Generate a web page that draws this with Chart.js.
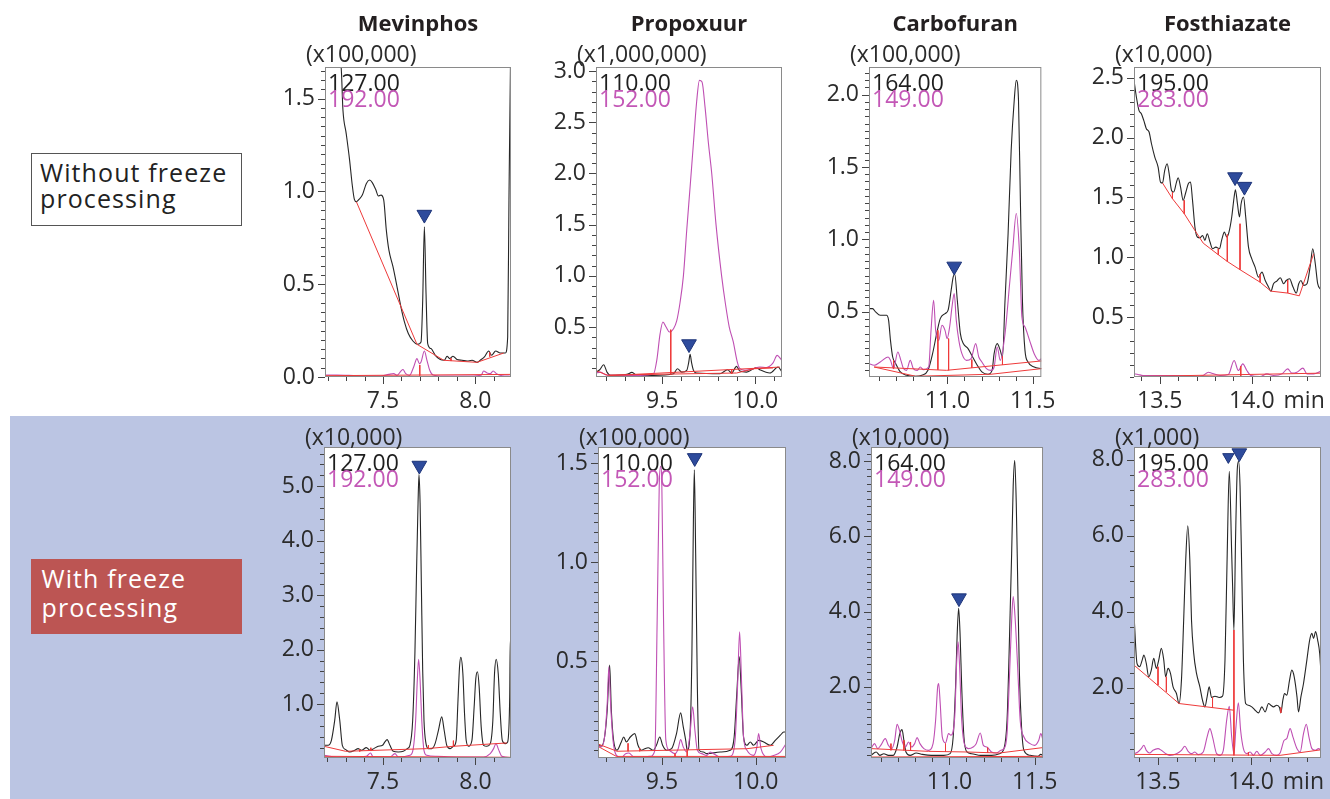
<!DOCTYPE html>
<html><head><meta charset="utf-8">
<script src="https://cdn.jsdelivr.net/npm/chart.js@4.4.1/dist/chart.umd.min.js"></script>
<style>
html,body{margin:0;padding:0;background:#fff;width:1330px;height:799px;overflow:hidden;font-family:'Open Sans','Noto Sans',sans-serif}
#band{position:absolute;left:10px;top:416px;width:1320px;height:383px;background:#BBC5E3}
.lab{position:absolute;box-sizing:border-box;font-size:25px;letter-spacing:1.1px;white-space:nowrap}
#lab1{left:31px;top:153px;width:211px;height:73px;border:1px solid #555;background:#fff;color:#222;line-height:25.6px;padding:6.2px 0 0 8px}
#lab2{left:31px;top:559px;width:211px;height:75px;background:#BC5553;color:#fff;line-height:28.4px;padding:5.4px 0 0 10.5px}
canvas{position:absolute}
</style></head>
<body>
<div id="band"></div>
<div class="lab" id="lab1">Without freeze<br>processing</div>
<div class="lab" id="lab2">With freeze<br>processing</div>
<script>
// ---------------- text / tick labels ----------------
const compounds = ['Mevinphos','Propoxuur','Carbofuran','Fosthiazate'];
const ionPairs = [['127.00','192.00'],['110.00','152.00'],['164.00','149.00'],['195.00','283.00']];
const xTickLabels = [['7.5','8.0'],['9.5','10.0'],['11.0','11.5'],['13.5','14.0']];
const expLabelsTop = ['(x100,000)','(x1,000,000)','(x100,000)','(x10,000)'];
const expLabelsBottom = ['(x10,000)','(x100,000)','(x10,000)','(x1,000)'];
const yTickLabelsTop = [['0.0','0.5','1.0','1.5'],['0.5','1.0','1.5','2.0','2.5','3.0'],['0.5','1.0','1.5','2.0'],['0.5','1.0','1.5','2.0','2.5']];
const yTickLabelsBottom = [['1.0','2.0','3.0','4.0','5.0'],['0.5','1.0','1.5'],['2.0','4.0','6.0','8.0'],['2.0','4.0','6.0','8.0']];
const xRangesTop = [[7.186,8.193],[9.145,10.143],[10.54,11.551],[13.36,14.376]];
const xRangesBottom = [[7.182,8.192],[9.16,10.161],[10.54,11.549],[13.371,14.376]];
const yRangesTop = [[0,1.67],[0.012,3.04],[0.051,2.19],[0,2.589]];
const yRangesBottom = [[0.012,5.72],[0.011,1.581],[0.107,8.38],[0.155,8.33]];
const yMinorTop = [0.05,0.1,0.05,0.1];
const yMinorBottom = [0.2,0.05,0.2,0.4];

// ---------------- Mevinphos, without freeze ----------------
const mevA_127 = [[7.184,1.80],[7.273,1.67],[7.283,1.44],[7.301,1.31],[7.319,1.17],[7.334,1.03],[7.345,0.957],[7.356,0.944],[7.370,0.957],[7.388,0.98],[7.410,1.043],[7.428,1.061],[7.442,1.047],[7.460,1.011],[7.475,0.975],[7.489,0.98],[7.504,0.953],[7.518,0.791],[7.532,0.683],[7.554,0.594],[7.576,0.486],[7.597,0.378],[7.616,0.297],[7.637,0.234],[7.662,0.194],[7.688,0.176],[7.706,0.189],[7.715,0.414],[7.724,0.809],[7.733,0.45],[7.742,0.18],[7.760,0.153],[7.783,0.117],[7.810,0.094],[7.832,0.09],[7.847,0.112],[7.861,0.099],[7.879,0.112],[7.901,0.094],[7.928,0.090],[7.955,0.086],[7.982,0.090],[8.009,0.079],[8.031,0.094],[8.049,0.108],[8.072,0.140],[8.088,0.117],[8.110,0.140],[8.135,0.129],[8.162,0.129],[8.175,0.216],[8.182,0.953],[8.190,1.67],[8.193,1.80]];
const mevA_192 = [[7.184,0.011],[7.251,0.011],[7.359,0.007],[7.486,0.005],[7.531,0.014],[7.558,0.018],[7.576,0.009],[7.597,0.032],[7.608,0.040],[7.623,0.018],[7.644,0.009],[7.666,0.054],[7.684,0.099],[7.697,0.072],[7.706,0.081],[7.724,0.140],[7.738,0.090],[7.753,0.036],[7.771,0.011],[7.829,0.005],[7.973,0.005],[8.031,0.009],[8.045,0.032],[8.063,0.022],[8.081,0.018],[8.096,0.032],[8.114,0.018],[8.144,0.007],[8.193,0.004]];
const mevA_base = [[[7.356,0.944],[7.684,0.176],[7.829,0.090],[8.009,0.079],[8.153,0.129]],[[7.184,0.007],[8.193,0.014]]];
const mevA_drops = [[7.699,0.065,0.007],[7.868,0.101,0.086],[8.078,0.132,0.110]];
const mevA_peaks = [[7.724,0.875]];

// ---------------- Propoxuur, without freeze ----------------
const proA_110 = [[9.145,0.060],[9.165,0.083],[9.186,0.132],[9.204,0.060],[9.222,0.028],[9.311,0.038],[9.338,0.057],[9.365,0.028],[9.454,0.028],[9.561,0.044],[9.582,0.093],[9.605,0.060],[9.632,0.077],[9.642,0.15],[9.650,0.233],[9.658,0.15],[9.668,0.077],[9.685,0.051],[9.810,0.044],[9.851,0.083],[9.873,0.051],[9.899,0.116],[9.917,0.070],[9.953,0.060],[10.006,0.103],[10.024,0.083],[10.078,0.051],[10.122,0.109],[10.143,0.060]];
const proA_152 = [[9.145,0.051],[9.168,0.06],[9.186,0.044],[9.204,0.031],[9.293,0.028],[9.382,0.028],[9.454,0.044],[9.471,0.174],[9.489,0.435],[9.504,0.549],[9.521,0.5],[9.539,0.451],[9.561,0.484],[9.578,0.56],[9.596,0.74],[9.614,1.0],[9.632,1.45],[9.650,1.87],[9.668,2.3],[9.685,2.7],[9.700,2.909],[9.714,2.893],[9.730,2.65],[9.748,2.3],[9.766,2.0],[9.789,1.5],[9.819,1.0],[9.840,0.72],[9.860,0.5],[9.881,0.36],[9.903,0.16],[9.917,0.093],[9.944,0.077],[9.988,0.093],[10.024,0.109],[10.060,0.105],[10.095,0.150],[10.117,0.223],[10.135,0.191],[10.143,0.168]];
const proA_base = [[[9.151,0.070],[9.213,0.025],[10.131,0.109]],[[9.213,0.031],[9.899,0.051],[9.996,0.093],[10.095,0.1]]];
const proA_drops = [[9.546,0.474,0.038],[9.873,0.083,0.044],[10.0,0.103,0.093]];
const proA_peaks = [[9.644,0.334]];

// ---------------- Carbofuran, without freeze ----------------
const carA_164 = [[10.540,0.523],[10.561,0.523],[10.579,0.5],[10.606,0.477],[10.643,0.477],[10.655,0.442],[10.666,0.304],[10.679,0.189],[10.697,0.143],[10.724,0.086],[10.760,0.063],[10.814,0.056],[10.850,0.063],[10.886,0.097],[10.913,0.212],[10.937,0.350],[10.958,0.454],[10.986,0.488],[11.004,0.512],[11.022,0.650],[11.034,0.742],[11.043,0.76],[11.058,0.581],[11.076,0.350],[11.094,0.281],[11.121,0.247],[11.148,0.189],[11.175,0.132],[11.202,0.086],[11.238,0.070],[11.262,0.097],[11.274,0.212],[11.292,0.281],[11.310,0.235],[11.323,0.189],[11.338,0.581],[11.356,1.041],[11.374,1.616],[11.392,1.961],[11.404,2.099],[11.417,1.961],[11.428,1.271],[11.440,0.581],[11.455,0.235],[11.473,0.155],[11.509,0.120],[11.551,0.109]];
const carA_149 = [[10.540,0.143],[10.570,0.132],[10.606,0.155],[10.652,0.189],[10.666,0.166],[10.684,0.109],[10.709,0.224],[10.727,0.166],[10.742,0.109],[10.760,0.097],[10.782,0.166],[10.800,0.109],[10.823,0.097],[10.841,0.120],[10.859,0.102],[10.890,0.120],[10.904,0.373],[10.919,0.581],[10.931,0.373],[10.949,0.304],[10.968,0.408],[10.986,0.373],[10.998,0.316],[11.013,0.396],[11.027,0.535],[11.040,0.627],[11.052,0.442],[11.067,0.304],[11.085,0.212],[11.112,0.166],[11.139,0.178],[11.166,0.281],[11.184,0.189],[11.202,0.155],[11.229,0.109],[11.256,0.097],[11.274,0.120],[11.292,0.258],[11.310,0.166],[11.338,0.350],[11.365,0.696],[11.383,0.926],[11.404,1.179],[11.422,0.926],[11.437,0.465],[11.455,0.396],[11.482,0.304],[11.509,0.212],[11.536,0.166],[11.551,0.178]];
const carA_base = [[[10.570,0.120],[10.814,0.056],[11.256,0.070],[11.554,0.109]],[[10.570,0.120],[10.995,0.097],[11.554,0.162]]];
const carA_drops = [[10.684,0.166,0.109],[10.944,0.373,0.10],[11.007,0.316,0.098],[11.143,0.171,0.114],[11.323,0.194,0.135]];
const carA_peaks = [[11.040,0.814]];

// ---------------- Fosthiazate, without freeze ----------------
const fosA_195 = [[13.360,2.478],[13.373,2.338],[13.387,2.227],[13.400,2.199],[13.413,2.143],[13.427,2.074],[13.442,2.046],[13.455,1.948],[13.473,1.837],[13.491,1.753],[13.504,1.628],[13.515,1.620],[13.527,1.726],[13.540,1.781],[13.551,1.698],[13.564,1.558],[13.576,1.545],[13.591,1.628],[13.600,1.664],[13.613,1.586],[13.627,1.475],[13.642,1.545],[13.655,1.614],[13.667,1.628],[13.678,1.475],[13.691,1.252],[13.704,1.169],[13.718,1.163],[13.733,1.182],[13.745,1.141],[13.758,1.196],[13.773,1.127],[13.787,1.071],[13.805,1.085],[13.824,1.071],[13.836,1.141],[13.851,1.210],[13.864,1.169],[13.876,1.210],[13.891,1.336],[13.904,1.503],[13.911,1.564],[13.922,1.447],[13.933,1.336],[13.942,1.447],[13.955,1.503],[13.967,1.336],[13.982,1.085],[14.000,0.987],[14.018,0.918],[14.036,0.834],[14.055,0.876],[14.073,0.806],[14.091,0.751],[14.104,0.717],[14.118,0.779],[14.136,0.801],[14.155,0.829],[14.173,0.779],[14.187,0.806],[14.205,0.820],[14.224,0.751],[14.242,0.701],[14.255,0.779],[14.267,0.806],[14.282,0.765],[14.300,0.779],[14.318,0.932],[14.331,1.071],[14.345,0.946],[14.358,0.779],[14.376,0.728]];
const fosA_283 = [[13.360,0.026],[13.382,0.021],[13.409,0.013],[13.482,0.013],[13.573,0.013],[13.645,0.010],[13.691,0.004],[13.736,0.013],[13.764,0.040],[13.782,0.032],[13.827,0.013],[13.873,0.021],[13.904,0.138],[13.927,0.054],[13.951,0.110],[13.973,0.054],[13.995,0.013],[14.045,0.004],[14.082,0.026],[14.118,0.013],[14.164,0.026],[14.195,0.068],[14.218,0.032],[14.245,0.040],[14.278,0.074],[14.300,0.026],[14.336,0.026],[14.376,0.049]];
const fosA_base = [[[13.515,1.620],[13.569,1.489],[13.633,1.364],[13.691,1.224],[13.736,1.118],[13.818,1.021],[13.867,0.965],[13.936,0.896],[14.045,0.792],[14.104,0.717],[14.195,0.701],[14.258,0.678],[14.336,1.029]],[[13.360,0.004],[14.376,0.032]]];
const fosA_drops = [[13.569,1.545,1.489],[13.633,1.475,1.364],[13.818,1.071,1.021],[13.867,1.19,0.965],[13.936,1.28,0.896],[14.045,0.86,0.792],[14.195,0.81,0.701],[13.940,0.09,0.008]];
const fosA_peaks = [[13.909,1.67],[13.96,1.59]];

// ---------------- Mevinphos, with freeze ----------------
const mevB_127 = [[7.182,0.245],[7.204,0.245],[7.222,0.337],[7.240,0.706],[7.252,1.043],[7.267,0.706],[7.281,0.245],[7.299,0.166],[7.321,0.123],[7.348,0.153],[7.366,0.184],[7.384,0.153],[7.411,0.202],[7.430,0.153],[7.451,0.184],[7.475,0.227],[7.498,0.245],[7.511,0.307],[7.523,0.350],[7.538,0.245],[7.556,0.135],[7.583,0.123],[7.610,0.135],[7.632,0.184],[7.646,0.245],[7.661,0.706],[7.673,1.933],[7.682,3.466],[7.690,4.693],[7.695,5.215],[7.701,4.693],[7.708,3.160],[7.715,1.626],[7.722,0.706],[7.733,0.276],[7.746,0.184],[7.764,0.184],[7.782,0.276],[7.800,0.521],[7.818,0.767],[7.831,0.521],[7.845,0.245],[7.863,0.184],[7.881,0.227],[7.896,0.337],[7.905,1.012],[7.914,1.687],[7.921,1.859],[7.932,1.564],[7.941,0.828],[7.950,0.337],[7.963,0.227],[7.981,0.337],[7.993,0.951],[8.002,1.472],[8.011,1.595],[8.020,1.319],[8.031,0.583],[8.044,0.245],[8.062,0.227],[8.080,0.276],[8.094,0.706],[8.103,1.564],[8.112,1.822],[8.123,1.564],[8.134,0.828],[8.145,0.337],[8.161,0.276],[8.174,0.307],[8.185,1.135],[8.188,2.178],[8.192,2.178]];
const mevB_192 = [[7.182,0.061],[7.251,0.031],[7.339,0.031],[7.411,0.043],[7.433,0.104],[7.448,0.031],[7.538,0.031],[7.565,0.092],[7.583,0.031],[7.646,0.061],[7.664,0.184],[7.677,0.706],[7.686,1.442],[7.693,1.822],[7.701,1.442],[7.710,0.706],[7.722,0.153],[7.737,0.061],[7.791,0.043],[7.899,0.031],[8.044,0.031],[8.080,0.092],[8.098,0.184],[8.111,0.276],[8.125,0.166],[8.143,0.043],[8.192,0.018]];
const mevB_base = [[[7.182,0.227],[7.299,0.135],[7.737,0.184],[7.881,0.227],[8.170,0.288]],[[7.182,0.043],[8.192,0.025]]];
const mevB_drops = [[7.375,0.17,0.13],[7.435,0.20,0.14],[7.746,0.25,0.18],[7.881,0.33,0.22]];
const mevB_peaks = [[7.697,5.38]];

// ---------------- Propoxuur, with freeze ----------------
const proB_110 = [[9.160,0.083],[9.177,0.070],[9.195,0.117],[9.209,0.252],[9.222,0.480],[9.231,0.252],[9.243,0.100],[9.261,0.050],[9.284,0.092],[9.297,0.117],[9.311,0.092],[9.332,0.117],[9.356,0.134],[9.373,0.075],[9.391,0.050],[9.409,0.058],[9.427,0.063],[9.454,0.050],[9.471,0.075],[9.489,0.117],[9.504,0.075],[9.525,0.050],[9.552,0.058],[9.578,0.134],[9.600,0.239],[9.614,0.168],[9.627,0.100],[9.635,0.050],[9.650,0.134],[9.660,0.539],[9.668,1.213],[9.673,1.466],[9.680,1.045],[9.689,0.370],[9.698,0.050],[9.721,0.041],[9.739,0.033],[9.810,0.041],[9.864,0.050],[9.885,0.117],[9.899,0.336],[9.912,0.522],[9.922,0.370],[9.935,0.117],[9.953,0.075],[9.971,0.092],[9.988,0.075],[10.015,0.100],[10.042,0.092],[10.078,0.075],[10.104,0.100],[10.131,0.126],[10.149,0.142],[10.161,0.142]];
const proB_152 = [[9.160,0.075],[9.177,0.067],[9.195,0.117],[9.209,0.286],[9.218,0.471],[9.227,0.286],[9.240,0.100],[9.258,0.024],[9.284,0.013],[9.307,0.033],[9.325,0.036],[9.347,0.019],[9.382,0.016],[9.436,0.019],[9.463,0.050],[9.475,0.707],[9.486,1.382],[9.493,1.483],[9.500,1.382],[9.509,0.707],[9.521,0.104],[9.539,0.050],[9.570,0.033],[9.587,0.058],[9.600,0.104],[9.614,0.067],[9.632,0.041],[9.650,0.134],[9.664,0.269],[9.676,0.151],[9.689,0.050],[9.712,0.033],[9.739,0.024],[9.757,0.041],[9.775,0.033],[9.810,0.016],[9.864,0.019],[9.890,0.100],[9.903,0.370],[9.914,0.648],[9.924,0.404],[9.935,0.117],[9.953,0.050],[9.988,0.024],[10.006,0.067],[10.015,0.134],[10.028,0.058],[10.060,0.016],[10.095,0.024],[10.131,0.041],[10.161,0.083]];
const proB_base = [[[9.165,0.080],[9.261,0.045],[9.953,0.058],[10.095,0.075]],[[9.165,0.067],[9.258,0.019],[10.158,0.019]]];
const proB_drops = [[9.320,0.085,0.045],[9.382,0.06,0.045],[9.570,0.033,0.017],[9.635,0.05,0.017]];
const proB_peaks = [[9.675,1.526]];

// ---------------- Carbofuran, with freeze ----------------
const carB_164 = [[10.540,0.178],[10.570,0.267],[10.592,0.178],[10.615,0.222],[10.642,0.178],[10.670,0.178],[10.693,0.400],[10.709,0.756],[10.722,0.862],[10.733,0.578],[10.745,0.267],[10.769,0.178],[10.805,0.240],[10.841,0.204],[10.895,0.178],[10.967,0.178],[11.004,0.222],[11.022,0.667],[11.036,2.0],[11.045,3.333],[11.054,4.089],[11.063,3.333],[11.072,2.0],[11.085,0.667],[11.103,0.267],[11.130,0.222],[11.184,0.178],[11.247,0.178],[11.293,0.222],[11.320,0.356],[11.338,1.111],[11.350,2.889],[11.365,5.556],[11.374,7.333],[11.383,8.027],[11.392,6.889],[11.401,4.667],[11.410,2.444],[11.423,0.933],[11.437,0.311],[11.473,0.178],[11.518,0.151],[11.536,0.204],[11.549,0.178]];
const carB_149 = [[10.540,0.356],[10.561,0.489],[10.579,0.356],[10.597,0.444],[10.624,0.622],[10.642,0.444],[10.661,0.356],[10.679,0.578],[10.693,1.004],[10.707,0.844],[10.724,0.533],[10.742,0.400],[10.760,0.533],[10.778,0.400],[10.796,0.489],[10.810,0.649],[10.827,0.489],[10.850,0.356],[10.877,0.311],[10.904,0.489],[10.919,1.111],[10.931,2.0],[10.937,2.089],[10.946,1.556],[10.958,0.667],[10.977,0.507],[10.995,0.756],[11.009,0.711],[11.031,1.2],[11.043,2.711],[11.051,3.2],[11.058,2.711],[11.072,1.111],[11.090,0.444],[11.112,0.356],[11.139,0.400],[11.157,0.489],[11.181,0.773],[11.199,0.444],[11.220,0.400],[11.247,0.267],[11.274,0.240],[11.302,0.311],[11.320,0.356],[11.338,0.756],[11.350,2.0],[11.365,3.778],[11.374,4.4],[11.386,3.778],[11.401,2.444],[11.415,1.111],[11.437,0.667],[11.473,0.489],[11.500,0.444],[11.524,0.578],[11.536,0.756],[11.549,0.578]];
const carB_base = [[[10.543,0.356],[10.877,0.284],[11.103,0.267],[11.293,0.240],[11.545,0.382]],[[10.540,0.133],[11.549,0.151]]];
const carB_drops = [[10.657,0.489,0.311],[10.733,0.578,0.311],[10.772,0.533,0.311],[10.977,0.489,0.267],[11.224,0.382,0.240]];
const carB_peaks = [[11.056,4.36]];

// ---------------- Fosthiazate, with freeze ----------------
const fosB_195 = [[13.371,3.959],[13.380,3.081],[13.387,2.641],[13.401,2.553],[13.415,2.729],[13.424,2.861],[13.437,2.641],[13.450,2.290],[13.464,2.466],[13.477,2.773],[13.491,2.510],[13.504,2.729],[13.518,3.037],[13.531,2.729],[13.541,2.290],[13.554,2.510],[13.567,2.378],[13.581,2.026],[13.599,1.851],[13.613,1.587],[13.626,2.202],[13.638,3.783],[13.649,5.365],[13.660,6.261],[13.671,5.365],[13.680,3.783],[13.692,2.905],[13.707,2.378],[13.725,2.026],[13.739,1.675],[13.752,1.499],[13.764,1.763],[13.775,2.026],[13.788,1.745],[13.806,1.780],[13.829,1.745],[13.847,1.780],[13.860,2.729],[13.872,5.540],[13.883,7.693],[13.896,5.540],[13.901,4.662],[13.908,3.520],[13.917,5.980],[13.926,7.737],[13.933,7.956],[13.941,7.297],[13.950,5.101],[13.959,2.729],[13.971,1.587],[13.986,1.543],[14.004,1.499],[14.022,1.411],[14.040,1.341],[14.058,1.499],[14.076,1.367],[14.094,1.587],[14.106,1.543],[14.121,1.499],[14.138,1.543],[14.153,1.482],[14.160,1.341],[14.171,1.675],[14.180,1.851],[14.192,1.807],[14.207,2.202],[14.219,2.466],[14.232,2.290],[14.247,1.763],[14.255,1.367],[14.268,1.763],[14.282,2.114],[14.300,2.729],[14.315,3.256],[14.327,3.432],[14.336,3.300],[14.347,3.476],[14.358,3.256],[14.369,2.905],[14.376,2.378]];
const fosB_283 = [[13.371,0.269],[13.392,0.313],[13.410,0.401],[13.424,0.489],[13.437,0.357],[13.455,0.287],[13.473,0.357],[13.500,0.401],[13.518,0.357],[13.541,0.269],[13.563,0.225],[13.599,0.269],[13.626,0.357],[13.644,0.463],[13.662,0.331],[13.680,0.269],[13.698,0.313],[13.716,0.243],[13.743,0.313],[13.764,0.709],[13.779,0.928],[13.793,0.709],[13.815,0.269],[13.833,0.225],[13.851,0.357],[13.869,1.148],[13.883,1.517],[13.896,0.709],[13.908,0.269],[13.919,0.972],[13.932,1.605],[13.944,0.884],[13.959,0.401],[13.977,0.269],[13.995,0.313],[14.013,0.225],[14.031,0.331],[14.049,0.225],[14.076,0.313],[14.094,0.401],[14.112,0.269],[14.138,0.225],[14.156,0.287],[14.178,0.621],[14.192,0.665],[14.210,0.928],[14.225,0.709],[14.247,0.401],[14.264,0.313],[14.282,0.796],[14.297,1.042],[14.311,0.709],[14.327,0.401],[14.345,0.357],[14.363,0.401],[14.376,0.357]];
const fosB_base = [[[13.371,2.597],[13.455,2.246],[13.613,1.587],[13.908,1.411]],[[13.371,0.25],[14.156,0.225],[14.376,0.37]]];
const fosB_drops = [[13.500,2.553,2.070],[13.545,2.290,1.895],[13.793,1.745,1.482],[13.908,3.520,0.225],[13.986,0.31,0.225],[14.160,1.482,1.341]];
const fosB_peaks = [[13.878,8.07],[13.937,8.17]];
const fosB_peakSizes = [6.5,8.5];

// ---------------- layout (pixel boxes of plot areas) ----------------
const plotBoxes = [
  [325,67,511,377],[596,67,782,377],[869,67,1055,377],[1134,67,1321,377],
  [324,447,511,758],[598,447,786,758],[871,447,1057,758],[1134,447,1321,758]
];
const FONT = "'Open Sans','Noto Sans',sans-serif";
const BLK = '#262626', MAG = '#BF4FB3', RED = '#EE3A3A', MAGTXT = '#C357B6';

const traces = [
  [mevA_127,mevA_192,mevA_base,mevA_drops,mevA_peaks,null],
  [proA_110,proA_152,proA_base,proA_drops,proA_peaks,null],
  [carA_164,carA_149,carA_base,carA_drops,carA_peaks,null],
  [fosA_195,fosA_283,fosA_base,fosA_drops,fosA_peaks,null],
  [mevB_127,mevB_192,mevB_base,mevB_drops,mevB_peaks,null],
  [proB_110,proB_152,proB_base,proB_drops,proB_peaks,null],
  [carB_164,carB_149,carB_base,carB_drops,carB_peaks,null],
  [fosB_195,fosB_283,fosB_base,fosB_drops,fosB_peaks,fosB_peakSizes]
];

function makeTicks(min, max, step) {
  const out = [];
  const s = Math.ceil(min/step - 1e-9), e = Math.floor(max/step + 1e-9);
  for (let i = s; i <= e; i++) out.push({value: +(i*step).toFixed(5)});
  return out;
}
function labelFor(labels) {
  return v => { const m = labels.find(l => Math.abs(parseFloat(l) - v) < 1e-6); return m || ''; };
}

for (let i = 0; i < 8; i++) {
  const row = i < 4 ? 0 : 1, col = i % 4;
  const [L,T,R,B] = plotBoxes[i];
  const [blk, mag, base, drops, peaks, peakSizes] = traces[i];
  const xr = row ? xRangesBottom[col] : xRangesTop[col];
  const yr = row ? yRangesBottom[col] : yRangesTop[col];
  const yStep = row ? yMinorBottom[col] : yMinorTop[col];
  const yLabels = row ? yTickLabelsBottom[col] : yTickLabelsTop[col];
  const xLabels = xTickLabels[col];
  const exp = row ? expLabelsBottom[col] : expLabelsTop[col];
  const ions = ionPairs[col];
  const title = row ? null : compounds[col];

  const YW = 70, XH = 40, PR = 12;
  const cTop = row ? 418 : 0, cH = row ? 381 : 417;
  const cLeft = L - YW, cW = (R - L) + YW + PR;
  const cv = document.createElement('canvas');
  cv.width = cW; cv.height = cH;
  cv.style.left = cLeft + 'px'; cv.style.top = cTop + 'px';
  cv.style.width = cW + 'px'; cv.style.height = cH + 'px';
  document.body.appendChild(cv);

  const pts = a => a.map(([x,y]) => ({x,y}));
  const segs = list => { const o=[]; list.forEach(s => { s.forEach(([x,y]) => o.push({x,y})); o.push({x:s[s.length-1][0], y:null}); }); return o; };
  const dropSegs = list => { const o=[]; list.forEach(([x,a,b]) => o.push({x,y:a},{x,y:b},{x,y:null})); return o; };

  const decor = {
    id: 'decor' + i,
    beforeDraw(chart) {
      const a = chart.chartArea, ctx = chart.ctx;
      ctx.save(); ctx.fillStyle = '#fff';
      ctx.fillRect(a.left, a.top, a.right - a.left, a.bottom - a.top);
      ctx.restore();
    },
    afterDraw(chart) {
      const a = chart.chartArea, ctx = chart.ctx;
      ctx.save();
      ctx.strokeStyle = '#8a8a8a'; ctx.lineWidth = 1;
      ctx.strokeRect(a.left + 0.5, a.top + 0.5, a.right - a.left - 1, a.bottom - a.top - 1);
      ctx.strokeStyle = '#444'; ctx.beginPath();
      chart.scales.x.ticks.forEach(t => {
        const len = t.label ? 7 : 4;
        const px = Math.round(chart.scales.x.getPixelForValue(t.value)) + 0.5;
        ctx.moveTo(px, a.bottom); ctx.lineTo(px, a.bottom + len);
      });
      chart.scales.y.ticks.forEach(t => {
        const len = t.label ? 7 : 4;
        const py = Math.round(chart.scales.y.getPixelForValue(t.value)) + 0.5;
        ctx.moveTo(a.left, py); ctx.lineTo(a.left - len, py);
      });
      ctx.stroke();
      ctx.font = `23px ${FONT}`; ctx.fillStyle = '#2b2b2b';
      ctx.textAlign = 'left'; ctx.textBaseline = 'alphabetic';
      ctx.fillText(exp, a.left - 19, a.top - (row ? 2.5 : 5.5));
      ctx.fillStyle = '#1e1e1e'; ctx.fillText(ions[0], a.left + 3, a.top + 24);
      ctx.fillStyle = MAGTXT; ctx.fillText(ions[1], a.left + 3, a.top + 40);
      if (title) {
        ctx.font = `bold 22px ${FONT}`; ctx.fillStyle = '#231f20'; ctx.textAlign = 'center';
        ctx.fillText(title, (a.left + a.right) / 2, a.top - 36);
      }
      if (col === 3) {
        const xs = chart.scales.x;
        const lab = xLabels[xLabels.length - 1];
        ctx.font = `23px ${FONT}`; ctx.fillStyle = '#2b2b2b'; ctx.textAlign = 'left';
        const w = ctx.measureText(lab).width;
        const px = xs.getPixelForValue(parseFloat(lab));
        let y = a.bottom + 25; ctx.textBaseline = 'middle';
        try {
          const it = xs.getLabelItems().find(k => k.label === lab);
          if (it) { y = it.options.translation[1] + (it.textOffset || 0); ctx.textBaseline = it.options.textBaseline || 'middle'; }
        } catch (e) {}
        ctx.fillText('min', px + w / 2 + 9, y);
      }
      ctx.restore();
    }
  };

  new Chart(cv, {
    type: 'line',
    data: { datasets: [
      { data: pts(peaks), showLine: false, pointStyle: 'triangle', pointRotation: 180,
        pointRadius: peakSizes || 8.5, pointBackgroundColor: '#2E4B9C', pointBorderColor: '#1D3479',
        pointBorderWidth: 1, clip: false },
      { data: dropSegs(drops), borderColor: RED, borderWidth: 1, pointRadius: 0, spanGaps: false, tension: 0 },
      { data: segs(base), borderColor: RED, borderWidth: 1, pointRadius: 0, spanGaps: false, tension: 0 },
      { data: pts(mag), borderColor: MAG, borderWidth: 1.1, pointRadius: 0, cubicInterpolationMode: 'monotone' },
      { data: pts(blk), borderColor: BLK, borderWidth: 1.1, pointRadius: 0, cubicInterpolationMode: 'monotone' }
    ]},
    options: {
      responsive: false, maintainAspectRatio: false, animation: false, devicePixelRatio: 1, events: [],
      layout: { padding: { left: 0, right: PR, top: T - cTop, bottom: cH - (B - cTop) - XH } },
      plugins: { legend: { display: false }, tooltip: { enabled: false }, title: { display: false } },
      scales: {
        x: { type: 'linear', min: xr[0], max: xr[1], bounds: 'data',
             grid: { display: false, drawTicks: false, tickLength: 0 }, border: { display: false },
             ticks: { autoSkip: false, maxRotation: 0, minRotation: 0, padding: 11, color: '#2b2b2b',
                      font: { size: 23, family: FONT }, callback: labelFor(xLabels) },
             afterBuildTicks: s => { s.ticks = makeTicks(xr[0], xr[1], 0.1); },
             afterFit: s => { s.height = XH; } },
        y: { type: 'linear', min: yr[0], max: yr[1], bounds: 'data',
             grid: { display: false, drawTicks: false, tickLength: 0 }, border: { display: false },
             ticks: { autoSkip: false, padding: 10, color: '#2b2b2b',
                      font: { size: 23, family: FONT }, callback: labelFor(yLabels) },
             afterBuildTicks: s => { s.ticks = makeTicks(yr[0], yr[1], yStep); },
             afterFit: s => { s.width = YW; } }
      }
    },
    plugins: [decor]
  });
}
</script>
</body></html>
